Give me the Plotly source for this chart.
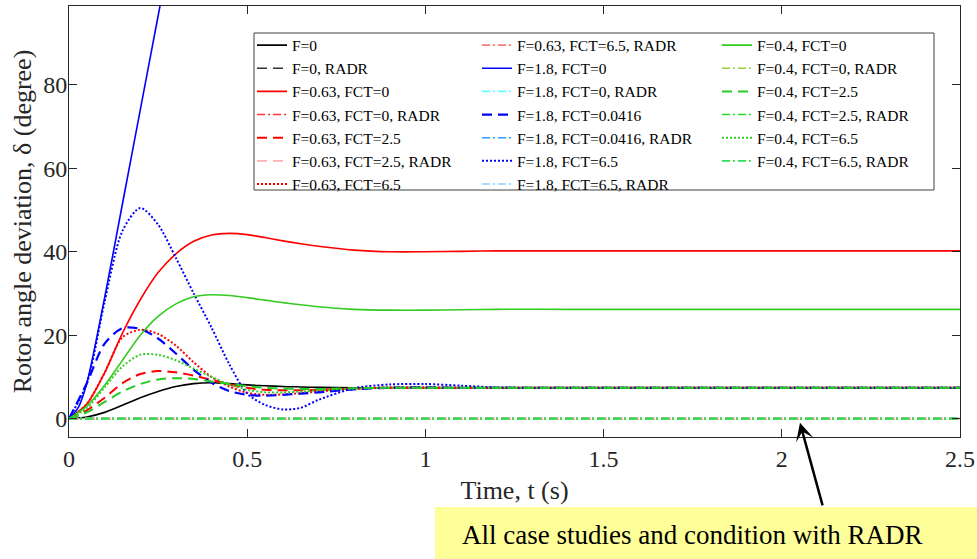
import plotly.graph_objects as go

# ---------------- data ----------------
t = [0, 0.05, 0.1, 0.15, 0.2, 0.25, 0.3, 0.35, 0.4, 0.45, 0.5, 0.55, 0.6, 0.65,
     0.7, 0.8, 0.9, 1.0, 1.1, 1.2, 1.4, 1.7, 2.0, 2.5]

f0 = [0, 0.4, 1.5, 3.2, 5.0, 6.5, 7.7, 8.4, 8.6, 8.4, 8.1, 7.9, 7.7, 7.6,
      7.5, 7.4, 7.4, 7.4, 7.4, 7.4, 7.4, 7.4, 7.4, 7.4]
f063_fct0 = [0, 3.5, 11.0, 20.5, 28.5, 35.0, 39.5, 42.5, 44.0, 44.4, 44.1, 43.4, 42.6, 41.9,
             41.3, 40.4, 40.0, 40.0, 40.1, 40.2, 40.2, 40.2, 40.2, 40.2]
f063_fct25 = [0, 2.0, 5.0, 8.5, 10.7, 11.4, 11.1, 10.3, 9.3, 8.2, 7.4, 6.9, 6.8, 6.8,
              6.9, 7.2, 7.4, 7.4, 7.4, 7.4, 7.4, 7.4, 7.4, 7.4]
f063_fct65 = [0, 3.5, 11.0, 19.5, 21.3, 20.3, 17.5, 13.5, 10.0, 7.7, 6.2, 5.7, 5.8, 6.1,
              6.5, 7.1, 7.5, 7.5, 7.4, 7.4, 7.4, 7.4, 7.4, 7.4]
t_f18 = [0, 0.025, 0.05, 0.1, 0.15, 0.2, 0.25, 0.3]
f18_fct0 = [0, 2.5, 8.5, 29.0, 51.5, 74.0, 96.5, 119.0]
f18_fct00416 = [0, 8.5, 18.0, 21.7, 21.5, 19.2, 15.6, 11.7, 8.6, 6.6, 5.7, 5.5, 5.7, 6.0,
                6.3, 7.0, 7.4, 7.5, 7.4, 7.4, 7.4, 7.4, 7.4, 7.4]
f18_fct65 = [0, 8.5, 28.0, 45.0, 50.5, 46.5, 38.5, 30.0, 21.8, 13.0, 6.0, 3.3, 2.2, 2.6,
             4.5, 7.3, 8.2, 8.3, 7.9, 7.5, 7.4, 7.4, 7.4, 7.4]
f04_fct0 = [0, 3.0, 8.0, 14.0, 20.0, 24.5, 27.5, 29.2, 29.7, 29.5, 29.0, 28.4, 27.8, 27.3,
            26.8, 26.2, 26.0, 26.0, 26.1, 26.2, 26.2, 26.2, 26.2, 26.2]
f04_fct25 = [0, 1.5, 4.0, 6.5, 8.3, 9.4, 9.7, 9.5, 8.9, 8.3, 7.8, 7.4, 7.2, 7.1,
             7.1, 7.3, 7.4, 7.4, 7.4, 7.4, 7.4, 7.4, 7.4, 7.4]
f04_fct65 = [0, 2.5, 7.5, 12.5, 15.3, 15.3, 14.0, 12.0, 10.0, 8.2, 6.9, 6.3, 6.3, 6.5,
             6.8, 7.2, 7.4, 7.4, 7.4, 7.4, 7.4, 7.4, 7.4, 7.4]
t_radr = [0, 2.5]
radr = [0.0, 0.0]   # every RADR case stays at zero deviation

x_ticks = [0, 0.5, 1, 1.5, 2, 2.5]
x_ticktext = ["0", "0.5", "1", "1.5", "2", "2.5"]
y_ticks = [0, 20, 40, 60, 80]

# (name, t, y, colour, dash, width, legend)
DASH = "10px,6px"
DOT = "2px,2px"
DDOT = "8px,3px,2px,3px"
series = [
    ("F=0", t, f0, "#000000", "solid", 1.6, "legend"),
    ("F=0, RADR", t_radr, radr, "#333333", DASH, 1.6, "legend"),
    ("F=0.63, FCT=0", t, f063_fct0, "#FF0000", "solid", 1.6, "legend"),
    ("F=0.63, FCT=0, RADR", t_radr, radr, "#FF3333", DDOT, 1.6, "legend"),
    ("F=0.63, FCT=2.5", t, f063_fct25, "#FF0000", DASH, 2.0, "legend"),
    ("F=0.63, FCT=2.5, RADR", t_radr, radr, "#FFB0B0", DASH, 1.6, "legend"),
    ("F=0.63, FCT=6.5", t, f063_fct65, "#FF0000", DOT, 2.0, "legend"),
    ("F=0.63, FCT=6.5, RADR", t_radr, radr, "#FF7777", DDOT, 1.6, "legend2"),
    ("F=1.8, FCT=0", t_f18, f18_fct0, "#0000FF", "solid", 1.6, "legend2"),
    ("F=1.8, FCT=0, RADR", t_radr, radr, "#66FFFF", DDOT, 1.6, "legend2"),
    ("F=1.8, FCT=0.0416", t, f18_fct00416, "#0000FF", DASH, 2.2, "legend2"),
    ("F=1.8, FCT=0.0416, RADR", t_radr, radr, "#3399FF", DDOT, 1.6, "legend2"),
    ("F=1.8, FCT=6.5", t, f18_fct65, "#0000FF", DOT, 2.0, "legend2"),
    ("F=1.8, FCT=6.5, RADR", t_radr, radr, "#88CCFF", DDOT, 1.6, "legend2"),
    ("F=0.4, FCT=0", t, f04_fct0, "#33CC22", "solid", 1.6, "legend3"),
    ("F=0.4, FCT=0, RADR", t_radr, radr, "#99CC44", DDOT, 1.6, "legend3"),
    ("F=0.4, FCT=2.5", t, f04_fct25, "#22CC22", DASH, 2.0, "legend3"),
    ("F=0.4, FCT=2.5, RADR", t_radr, radr, "#22DD22", DDOT, 1.6, "legend3"),
    ("F=0.4, FCT=6.5", t, f04_fct65, "#33CC22", DOT, 2.0, "legend3"),
    ("F=0.4, FCT=6.5, RADR", t_radr, radr, "#33DD55", DDOT, 1.8, "legend3"),
]

fig = go.Figure()
for name, tx, ty, col, dash, w, leg in series:
    fig.add_trace(go.Scatter(
        x=tx, y=ty, mode="lines", name=name, legend=leg,
        line=dict(color=col, dash=dash, width=w, shape="spline", smoothing=0.8),
    ))

W, H = 977, 559
ml, mr, mt, mb = 69, 17, 6, 122
pw, ph = W - ml - mr, H - mt - mb


def px2paper_x(px):
    return (px - ml) / pw


def px2paper_y(py):
    return 1 - (py - mt) / ph


FONT = "Liberation Serif"
AX = "#262626"
leg_font = dict(family=FONT, size=15.5, color="#000000")
leg_common = dict(xanchor="left", yanchor="top", bgcolor="rgba(0,0,0,0)",
                  borderwidth=0, font=leg_font, itemwidth=30, tracegroupgap=0)
leg_top = px2paper_y(28.5)

fig.update_layout(
    width=W, height=H,
    margin=dict(l=ml, r=mr, t=mt, b=mb, autoexpand=False),
    paper_bgcolor="white", plot_bgcolor="white",
    font=dict(family=FONT, color=AX),
    legend=dict(x=px2paper_x(252), y=leg_top, **leg_common),
    legend2=dict(x=px2paper_x(477), y=leg_top, **leg_common),
    legend3=dict(x=px2paper_x(717), y=leg_top, **leg_common),
    xaxis=dict(
        range=[0, 2.5], tickvals=x_ticks, ticktext=x_ticktext,
        showline=True, mirror="ticks", linecolor=AX, linewidth=1,
        ticks="inside", ticklen=8, tickcolor=AX, tickwidth=1,
        showgrid=False, zeroline=False,
        tickfont=dict(family=FONT, size=24, color=AX),
        title=dict(text="Time, t (s)", font=dict(family=FONT, size=26, color=AX), standoff=10),
    ),
    yaxis=dict(
        range=[-4.4, 98.9], tickvals=y_ticks,
        showline=True, mirror="ticks", linecolor=AX, linewidth=1,
        ticks="inside", ticklen=8, tickcolor=AX, tickwidth=1,
        showgrid=False, zeroline=False, ticklabelstandoff=-4,
        tickfont=dict(family=FONT, size=24, color=AX),
        title=dict(text="Rotor angle deviation, δ (degree)",
                   font=dict(family=FONT, size=26, color=AX), standoff=4),
    ),
    shapes=[
        # legend frame
        dict(type="rect", xref="paper", yref="paper",
             x0=px2paper_x(254), x1=px2paper_x(934),
             y0=px2paper_y(190), y1=px2paper_y(33),
             fillcolor="white", line=dict(color="#404040", width=1), layer="below"),
        # yellow call-out box
        dict(type="rect", xref="paper", yref="paper",
             x0=px2paper_x(435), x1=px2paper_x(985),
             y0=px2paper_y(565), y1=px2paper_y(507),
             fillcolor="#FFFF99", line=dict(width=0), layer="above"),
    ],
    annotations=[
        dict(xref="paper", yref="paper", x=px2paper_x(460), y=px2paper_y(535),
             xanchor="left", yanchor="middle", showarrow=False,
             text="All case studies and condition with RADR",
             font=dict(family=FONT, size=27, color="#000000")),
        dict(xref="x", yref="y", x=2.051, y=-1.0, text="", showarrow=True,
             axref="pixel", ayref="pixel", ax=23, ay=84,
             arrowhead=3, arrowsize=1.2, arrowwidth=2.5, arrowcolor="#000000"),
    ],
)

fig.write_html("out.html", config={"displayModeBar": False},
               post_script="document.body.style.margin='0';document.body.style.overflow='hidden';")
